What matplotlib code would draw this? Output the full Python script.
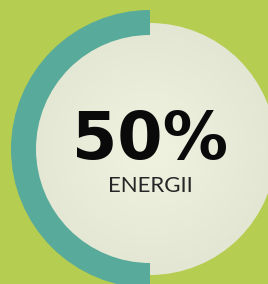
import numpy as np
import matplotlib.pyplot as plt
from matplotlib.patches import Wedge, Circle

# data
VALUE = [50]
LABEL = ["ENERGII"]

W, H = 268, 284
BG = "#b5cd50"
TEAL = "#58aa9b"
DISC_CENTER = np.array([0xf0, 0xf3, 0xe0]) / 255
DISC_EDGE = np.array([0xe2, 0xe6, 0xd2]) / 255

CX, CY = 150, 149
R_DISC = 126
R_OUT, R_IN = 139, 114

fig = plt.figure(figsize=(W / 100, H / 100), dpi=100)
fig.patch.set_facecolor(BG)
ax = fig.add_axes([0, 0, 1, 1])
ax.set_facecolor(BG)
ax.set_xlim(0, W)
ax.set_ylim(H, 0)
ax.axis("off")

# disc with radial gradient
yy, xx = np.mgrid[0:H, 0:W] + 0.5
d = np.clip(np.hypot(xx - CX, yy - CY) / R_DISC, 0, 1)
img = DISC_CENTER[None, None, :] * (1 - d[..., None]) + DISC_EDGE[None, None, :] * d[..., None]
im = ax.imshow(img, extent=(0, W, H, 0), interpolation="bilinear", zorder=1)
clip = Circle((CX, CY), R_DISC, transform=ax.transData)
im.set_clip_path(clip)

# progress arc (counter-clockwise from top on a y-down axis -> left side)
frac = VALUE[0] / 100
ax.add_patch(Wedge((CX, CY), R_OUT, 270 - 360 * frac, 270, width=R_OUT - R_IN,
                   facecolor=TEAL, edgecolor="none", zorder=2))

ax.text(CX, 141, f"{VALUE[0]}%", ha="center", va="center", fontsize=47,
        fontweight="bold", family="DejaVu Sans", color="#0a0a0a", zorder=3)
ax.text(CX, 185.5, LABEL[0], ha="center", va="center", fontsize=16,
        fontweight="normal", family="Lato", color="#262626", zorder=3)

fig.savefig("out.png", dpi=100, facecolor=BG)
